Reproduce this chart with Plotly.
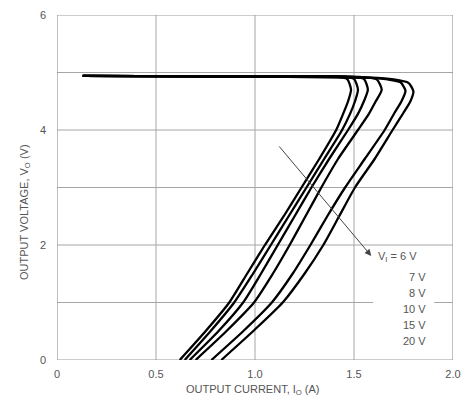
import plotly.graph_objects as go

# Output current (A) / output voltage (V) readings per input-voltage curve
i_6v  = [0.13, 1.00, 1.40, 1.465, 1.485, 1.470, 1.445, 1.410, 1.325, 1.235, 1.145, 1.050, 0.960, 0.870, 0.750, 0.620]
v_6v  = [4.94, 4.93, 4.93, 4.89, 4.70, 4.50, 4.28, 4.00, 3.50, 3.00, 2.50, 2.00, 1.50, 1.00, 0.50, 0.00]
i_7v  = [0.13, 1.00, 1.44, 1.500, 1.520, 1.505, 1.480, 1.440, 1.350, 1.260, 1.170, 1.080, 0.990, 0.895, 0.775, 0.645]
v_7v  = [4.94, 4.93, 4.93, 4.89, 4.70, 4.50, 4.28, 4.00, 3.50, 3.00, 2.50, 2.00, 1.50, 1.00, 0.50, 0.00]
i_8v  = [0.13, 1.00, 1.48, 1.550, 1.570, 1.550, 1.520, 1.470, 1.375, 1.285, 1.200, 1.115, 1.030, 0.940, 0.815, 0.670]
v_8v  = [4.94, 4.93, 4.93, 4.89, 4.70, 4.50, 4.28, 4.00, 3.50, 3.00, 2.50, 2.00, 1.50, 1.00, 0.50, 0.00]
i_10v = [0.13, 1.00, 1.54, 1.615, 1.640, 1.610, 1.575, 1.520, 1.420, 1.335, 1.255, 1.175, 1.090, 0.995, 0.855, 0.700]
v_10v = [4.94, 4.93, 4.92, 4.88, 4.70, 4.50, 4.28, 4.00, 3.50, 3.00, 2.50, 2.00, 1.50, 1.00, 0.50, 0.00]
i_15v = [0.13, 1.00, 1.55, 1.670, 1.735, 1.760, 1.740, 1.705, 1.655, 1.555, 1.455, 1.365, 1.280, 1.190, 1.085, 0.940, 0.780]
v_15v = [4.94, 4.93, 4.91, 4.88, 4.83, 4.68, 4.50, 4.30, 4.00, 3.50, 3.00, 2.50, 2.00, 1.50, 1.00, 0.50, 0.00]
i_20v = [0.13, 1.00, 1.58, 1.700, 1.775, 1.800, 1.785, 1.750, 1.695, 1.605, 1.505, 1.425, 1.345, 1.250, 1.140, 0.990, 0.830]
v_20v = [4.94, 4.93, 4.91, 4.88, 4.82, 4.67, 4.50, 4.30, 4.00, 3.50, 3.00, 2.50, 2.00, 1.50, 1.00, 0.50, 0.00]

curves = [(i_6v, v_6v), (i_7v, v_7v), (i_8v, v_8v), (i_10v, v_10v), (i_15v, v_15v), (i_20v, v_20v)]
legend_labels = ["V<sub>I</sub> = 6 V", "7 V", "8 V", "10 V", "15 V", "20 V"]

x_ticks = [0, 0.5, 1.0, 1.5, 2.0]
x_tick_text = ["0", "0.5", "1.0", "1.5", "2.0"]
y_ticks = [0, 2, 4, 6]
y_grid = [1, 2, 3, 4, 5]
x_grid = [0.5, 1.0, 1.5]

GRID = "#a6a6a6"
TXT = "#555555"
FONT = "Liberation Sans, Arial, sans-serif"

fig = go.Figure()
for cx, cy in curves:
    fig.add_trace(go.Scatter(
        x=cx, y=cy, mode="lines",
        line=dict(color="black", width=2.3, shape="spline", smoothing=0.6),
        hoverinfo="skip", showlegend=False))

shapes = []
for gx in x_grid:
    shapes.append(dict(type="line", xref="x", yref="y", x0=gx, x1=gx, y0=0, y1=6,
                       line=dict(color=GRID, width=1), layer="below"))
for gy in y_grid:
    if gy == 1:
        segs = [(0, 1.597), (1.905, 2.0)]
    else:
        segs = [(0, 2.0)]
    for a, b in segs:
        shapes.append(dict(type="line", xref="x", yref="y", x0=a, x1=b, y0=gy, y1=gy,
                           line=dict(color=GRID, width=1), layer="below"))
shapes.append(dict(type="rect", xref="x", yref="y", x0=0, x1=2, y0=0, y1=6,
                   line=dict(color="#9a9a9a", width=1.2), layer="below"))

annotations = []
annotations.append(dict(x=1.587, y=1.81, ax=1.116, ay=3.74, xref="x", yref="y",
                        axref="x", ayref="y", text="", showarrow=True,
                        arrowhead=2, arrowsize=1.3, arrowwidth=1, arrowcolor="#444444"))
label_y = [1.80, 1.45, 1.17, 0.89, 0.615, 0.336]
label_x = [1.83, 1.875, 1.875, 1.875, 1.875, 1.875]
for lx, ly, t in zip(label_x, label_y, legend_labels):
    annotations.append(dict(x=lx, y=ly, xref="x", yref="y", text=t, showarrow=False,
                            xanchor="right", yanchor="middle",
                            font=dict(family=FONT, size=11, color=TXT)))
annotations.append(dict(x=(25 - 57) / 396, y=(360 - 212) / 345, xref="paper", yref="paper",
                        text="OUTPUT VOLTAGE, V<sub>O</sub> (V)", textangle=-90,
                        showarrow=False, xanchor="center", yanchor="middle",
                        font=dict(family=FONT, size=11, color=TXT)))
annotations.append(dict(x=0.99, y=(360 - 390) / 345, xref="x", yref="paper",
                        text="OUTPUT CURRENT, I<sub>O</sub> (A)",
                        showarrow=False, xanchor="center", yanchor="middle",
                        font=dict(family=FONT, size=11, color=TXT)))

fig.update_layout(
    width=466, height=395,
    margin=dict(l=49, r=21, t=7, b=43),
    paper_bgcolor="white", plot_bgcolor="white",
    shapes=shapes, annotations=annotations,
    xaxis=dict(range=[0, 2], tickvals=x_ticks, ticktext=x_tick_text, showgrid=False,
               zeroline=False, showline=False, ticks="", ticklabelstandoff=6,
               tickfont=dict(family=FONT, size=11, color=TXT), automargin=False),
    yaxis=dict(range=[0, 6], tickvals=y_ticks, showgrid=False, zeroline=False,
               showline=False, ticks="", ticklabelstandoff=10,
               tickfont=dict(family=FONT, size=11, color=TXT), automargin=False),
)

fig.write_html("out.html")
